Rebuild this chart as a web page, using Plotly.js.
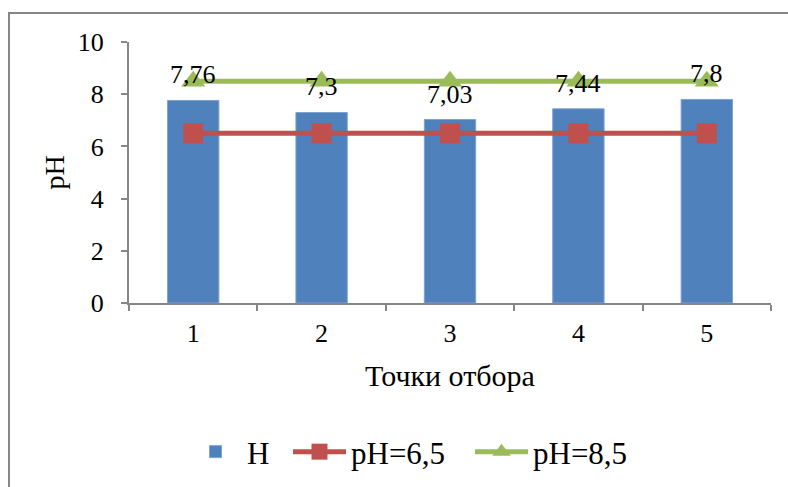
<!DOCTYPE html>
<html>
<head>
<meta charset="utf-8">
<script src="https://cdn.plot.ly/plotly-3.0.1.min.js"></script>
<style>
  html, body { margin: 0; padding: 0; background: #fff; }
  #wrap { position: relative; width: 788px; height: 487px; overflow: hidden; }
  #chart { width: 788px; height: 487px; }
  #frame { position: absolute; left: 8px; top: 12px; width: 820px; height: 520px;
           border: 2px solid #868686; pointer-events: none; box-sizing: border-box; }
</style>
</head>
<body>
<div id="wrap">
  <div id="chart"></div>
  <div id="frame"></div>
</div>
<script>
const categories = ['1', '2', '3', '4', '5'];
const phValues = [7.76, 7.3, 7.03, 7.44, 7.8];
const lowLimit = [6.5, 6.5, 6.5, 6.5, 6.5];
const highLimit = [8.5, 8.5, 8.5, 8.5, 8.5];
const seriesNames = ['H', 'pH=6,5', 'pH=8,5'];
const yTickVals = [0, 2, 4, 6, 8, 10];

const FONT = 'Times New Roman, Liberation Serif, serif';

const traces = [
  {
    type: 'bar', x: categories, y: phValues, name: seriesNames[0],
    marker: { color: '#4F81BD', line: { color: '#7FA3D1', width: 1 } },
    width: 0.4, legend: 'legend'
  },
  {
    type: 'scatter', mode: 'lines+markers', x: categories, y: lowLimit, name: seriesNames[1],
    line: { color: '#C0504D', width: 5 },
    marker: { symbol: 'square', size: 20, color: '#C0504D' },
    legend: 'legend2'
  },
  {
    type: 'scatter', mode: 'lines+markers', x: categories, y: highLimit, name: seriesNames[2],
    line: { color: '#9BBB59', width: 5 },
    marker: { symbol: 'triangle-up', size: 21, color: '#9BBB59' },
    cliponaxis: false, legend: 'legend3'
  }
];

const annotations = categories.map((c, i) => ({
  x: i, y: phValues[i], xref: 'x', yref: 'y',
  text: String(phValues[i]).replace('.', ','),
  showarrow: false, yanchor: 'bottom', yshift: 9,
  font: { family: FONT, size: 26, color: '#000' }
}));

function legendAt(left) {
  return {
    orientation: 'h', xref: 'container', yref: 'container',
    x: left / 788, xanchor: 'left', y: 1 - 452 / 487, yanchor: 'middle',
    font: { family: FONT, size: 31, color: '#000' },
    itemwidth: 53, bgcolor: 'rgba(0,0,0,0)'
  };
}

const layout = {
  width: 788, height: 487,
  margin: { l: 129, r: 17, t: 42, b: 184 },
  paper_bgcolor: '#fff', plot_bgcolor: '#fff',
  font: { family: FONT, color: '#000' },
  showlegend: true,
  xaxis: {
    type: 'category', tickson: 'boundaries', range: [-0.5, 4.5],
    ticks: 'outside', ticklen: 6, tickwidth: 2, tickcolor: '#868686',
    showline: true, linecolor: '#868686', linewidth: 2,
    showgrid: false, zeroline: false,
    tickfont: { family: FONT, size: 26, color: '#000' },
    ticklabelstandoff: 6,
    title: { text: 'Точки отбора', font: { family: FONT, size: 30, color: '#000' }, standoff: 18 }
  },
  yaxis: {
    range: [0, 10], tickvals: yTickVals,
    ticks: 'outside', ticklen: 6, tickwidth: 2, tickcolor: '#868686',
    showline: true, linecolor: '#868686', linewidth: 2,
    showgrid: false, zeroline: false,
    tickfont: { family: FONT, size: 26, color: '#000' },
    ticklabelstandoff: 12,
    title: { text: 'pH', font: { family: FONT, size: 28, color: '#000' }, standoff: 5 }
  },
  legend: legendAt(184),
  legend2: legendAt(288),
  legend3: legendAt(470),
  annotations: annotations
};

Plotly.newPlot('chart', traces, layout, { displayModeBar: false, staticPlot: true });
</script>
</body>
</html>
